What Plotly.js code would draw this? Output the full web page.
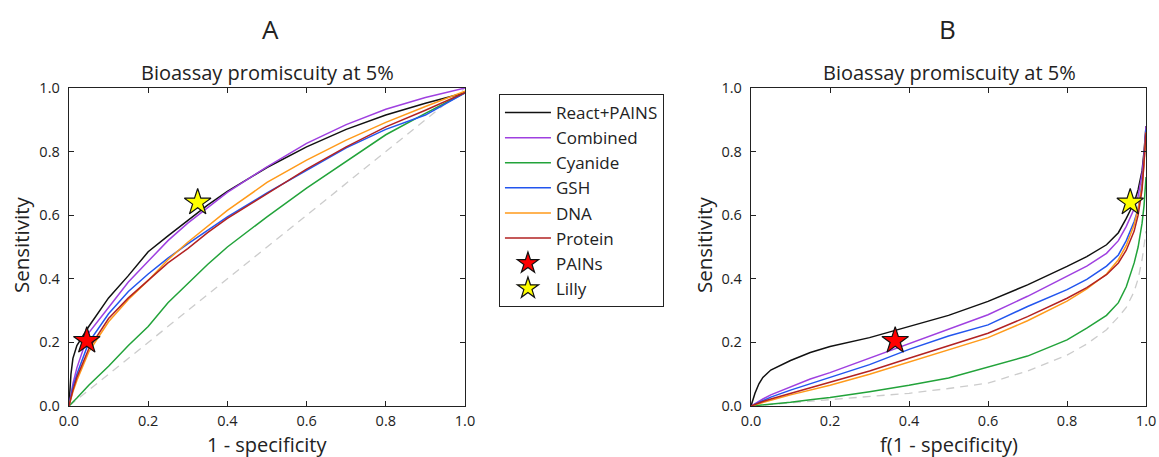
<!DOCTYPE html>
<html>
<head>
<meta charset="utf-8">
<script src="https://cdn.plot.ly/plotly-3.0.1.min.js"></script>
<style>html,body{margin:0;padding:0;background:#fff;}#chart{width:1159px;height:457px;}</style>
</head>
<body>
<div id="chart"></div>
<script>
// ---- Panel A data (x = 1 - specificity) ----
var xA = [0, 0.005, 0.01, 0.02, 0.05, 0.1, 0.15, 0.2, 0.25, 0.3, 0.35, 0.4, 0.5, 0.6, 0.7, 0.8, 0.9, 1];
var aReact    = [0, 0.10, 0.15, 0.19, 0.25, 0.34, 0.41, 0.485, 0.535, 0.585, 0.632, 0.675, 0.75, 0.815, 0.87, 0.915, 0.952, 0.985];
var aCombined = [0, 0.04, 0.07, 0.12, 0.23, 0.31, 0.39, 0.455, 0.52, 0.575, 0.625, 0.672, 0.752, 0.826, 0.885, 0.933, 0.97, 1.0];
var aCyanide  = [0, 0.006, 0.012, 0.025, 0.065, 0.125, 0.19, 0.25, 0.325, 0.385, 0.445, 0.5, 0.595, 0.685, 0.77, 0.853, 0.92, 0.985];
var aGSH      = [0, 0.035, 0.06, 0.10, 0.20, 0.29, 0.36, 0.415, 0.465, 0.51, 0.553, 0.595, 0.67, 0.742, 0.812, 0.87, 0.915, 0.985];
var aDNA      = [0, 0.025, 0.045, 0.08, 0.17, 0.265, 0.335, 0.395, 0.46, 0.515, 0.565, 0.615, 0.703, 0.773, 0.836, 0.892, 0.942, 0.99];
var aProtein  = [0, 0.03, 0.05, 0.09, 0.18, 0.275, 0.34, 0.395, 0.45, 0.495, 0.545, 0.59, 0.668, 0.745, 0.815, 0.878, 0.93, 0.985];
var aRandomX  = [0, 1];
var aRandomY  = [0, 1];
var aPainsPt  = [0.045, 0.205];
var aLillyPt  = [0.325, 0.64];

// ---- Panel B data (x = f(1 - specificity)) ----
var xB = [0, 0.01, 0.02, 0.03, 0.05, 0.1, 0.15, 0.2, 0.3, 0.4, 0.5, 0.6, 0.7, 0.8, 0.85, 0.9, 0.93, 0.95, 0.97, 0.98, 0.99, 0.995, 1];
var bReact    = [0, 0.04, 0.07, 0.09, 0.113, 0.143, 0.168, 0.187, 0.215, 0.25, 0.285, 0.329, 0.381, 0.439, 0.47, 0.507, 0.545, 0.59, 0.64, 0.68, 0.74, 0.80, 0.88];
var bCombined = [0, 0.008, 0.015, 0.022, 0.035, 0.06, 0.085, 0.105, 0.15, 0.195, 0.24, 0.287, 0.345, 0.408, 0.44, 0.48, 0.52, 0.565, 0.62, 0.66, 0.73, 0.79, 0.88];
var bCyanide  = [0, 0.001, 0.002, 0.003, 0.005, 0.012, 0.02, 0.027, 0.045, 0.065, 0.088, 0.123, 0.157, 0.208, 0.245, 0.285, 0.325, 0.375, 0.45, 0.50, 0.575, 0.63, 0.72];
var bGSH      = [0, 0.006, 0.012, 0.018, 0.028, 0.05, 0.07, 0.09, 0.13, 0.178, 0.22, 0.255, 0.313, 0.366, 0.398, 0.44, 0.475, 0.52, 0.58, 0.62, 0.70, 0.77, 0.87];
var bDNA      = [0, 0.004, 0.007, 0.011, 0.018, 0.035, 0.05, 0.065, 0.1, 0.138, 0.178, 0.215, 0.268, 0.33, 0.368, 0.415, 0.46, 0.505, 0.57, 0.62, 0.69, 0.76, 0.86];
var bProtein  = [0, 0.005, 0.009, 0.014, 0.022, 0.04, 0.058, 0.075, 0.11, 0.15, 0.19, 0.229, 0.281, 0.339, 0.372, 0.413, 0.45, 0.49, 0.55, 0.60, 0.68, 0.76, 0.86];
var bRandom   = [0, 0.001, 0.002, 0.003, 0.004, 0.008, 0.013, 0.018, 0.028, 0.04, 0.055, 0.072, 0.11, 0.16, 0.195, 0.24, 0.28, 0.31, 0.36, 0.40, 0.46, 0.50, 0.55];
var bPainsPt  = [0.365, 0.205];
var bLillyPt  = [0.96, 0.64];

var tickVals = [0, 0.2, 0.4, 0.6, 0.8, 1.0];
var tickText = ['0.0', '0.2', '0.4', '0.6', '0.8', '1.0'];

var seriesNames = ['React+PAINS', 'Combined', 'Cyanide', 'GSH', 'DNA', 'Protein'];
var seriesColors = ['#111111', '#9f40e0', '#22a33a', '#2255ee', '#ff9a1a', '#b22222'];
var aSeries = [aReact, aCombined, aCyanide, aGSH, aDNA, aProtein];
var bSeries = [bReact, bCombined, bCyanide, bGSH, bDNA, bProtein];

var FONT = 'Open Sans, Noto Sans, DejaVu Sans, sans-serif';
var traces = [];

traces.push({x: aRandomX, y: aRandomY, xaxis: 'x', yaxis: 'y', mode: 'lines', showlegend: false,
  line: {color: '#cccccc', width: 1.3, dash: '8px,6px'}, hoverinfo: 'skip'});
traces.push({x: xB, y: bRandom, xaxis: 'x2', yaxis: 'y2', mode: 'lines', showlegend: false,
  line: {color: '#cccccc', width: 1.3, dash: '8px,6px'}, hoverinfo: 'skip'});

for (var i = 0; i < seriesNames.length; i++) {
  traces.push({x: xA, y: aSeries[i], xaxis: 'x', yaxis: 'y', mode: 'lines', name: seriesNames[i],
    legendgroup: 'g' + i, showlegend: true, line: {color: seriesColors[i], width: 1.5}});
}
for (var j = 0; j < seriesNames.length; j++) {
  traces.push({x: xB, y: bSeries[j], xaxis: 'x2', yaxis: 'y2', mode: 'lines', name: seriesNames[j],
    legendgroup: 'g' + j, showlegend: false, line: {color: seriesColors[j], width: 1.5}});
}

var starStyle = function (c) { return {symbol: 'star', size: 20, color: c, line: {color: '#111', width: 1.2}}; };
traces.push({x: [aPainsPt[0]], y: [aPainsPt[1]], xaxis: 'x', yaxis: 'y', mode: 'markers', name: 'PAINs',
  legendgroup: 'gp', marker: starStyle('#ff0000')});
traces.push({x: [aLillyPt[0]], y: [aLillyPt[1]], xaxis: 'x', yaxis: 'y', mode: 'markers', name: 'Lilly',
  legendgroup: 'gl', marker: starStyle('#ffff00')});
traces.push({x: [bPainsPt[0]], y: [bPainsPt[1]], xaxis: 'x2', yaxis: 'y2', mode: 'markers', name: 'PAINs',
  legendgroup: 'gp', showlegend: false, marker: starStyle('#ff0000')});
traces.push({x: [bLillyPt[0]], y: [bLillyPt[1]], xaxis: 'x2', yaxis: 'y2', mode: 'markers', name: 'Lilly',
  legendgroup: 'gl', showlegend: false, marker: starStyle('#ffff00')});

function axis(domain, anchor, standoff) {
  return {domain: domain, anchor: anchor, range: [0, 1], tickvals: tickVals, ticktext: tickText,
    ticks: 'inside', ticklen: 5, tickwidth: 1, tickcolor: '#222', mirror: 'ticks', showline: true,
    linecolor: '#222', linewidth: 1.3, showgrid: false, zeroline: false, fixedrange: true,
    ticklabelstandoff: standoff,
    tickfont: {family: FONT, size: 14.5, color: '#222'}};
}

function ann(text, px, py, size, angle) {
  return {text: text, x: px / 1159, y: 1 - py / 457, xref: 'paper', yref: 'paper', xanchor: 'center',
    yanchor: 'middle', showarrow: false, textangle: angle || 0, font: {family: FONT, size: size, color: '#222'}};
}

var layout = {
  width: 1159, height: 457, margin: {l: 0, r: 0, t: 0, b: 0},
  paper_bgcolor: '#fff', plot_bgcolor: '#fff', font: {family: FONT, color: '#222'},
  xaxis: axis([0.0595, 0.4012], 'y', 1),
  yaxis: axis([0.1116, 0.8074], 'x', 5),
  xaxis2: axis([0.648, 0.9888], 'y2', 1),
  yaxis2: axis([0.1116, 0.8074], 'x2', 5),
  showlegend: true,
  legend: {x: 0.4305, y: 0.7943, xanchor: 'left', yanchor: 'top', bordercolor: '#222', borderwidth: 1,
    bgcolor: '#fff', font: {family: FONT, size: 17, color: '#222'}, traceorder: 'grouped', tracegroupgap: 0,
    itemwidth: 46},
  annotations: [
    ann('A', 270, 29, 26),
    ann('B', 947, 29, 26),
    ann('Bioassay promiscuity at 5%', 267, 72, 20),
    ann('Bioassay promiscuity at 5%', 949, 72, 20),
    ann('1 - specificity', 267, 444, 20),
    ann('f(1 - specificity)', 949, 444, 20),
    ann('Sensitivity', 21, 245, 20.5, -90),
    ann('Sensitivity', 704, 245, 20.5, -90)
  ]
};

Plotly.newPlot('chart', traces, layout, {displayModeBar: false, staticPlot: true});
</script>
</body>
</html>
